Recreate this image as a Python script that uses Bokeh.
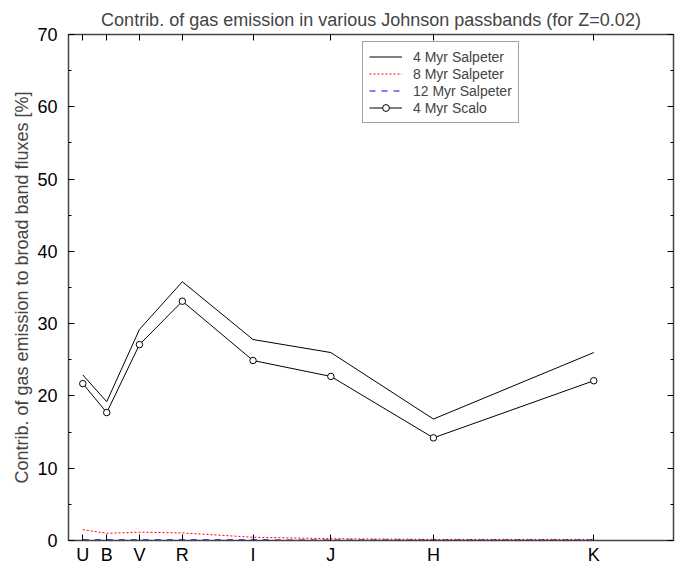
from bokeh.plotting import figure
from bokeh.models import (LinearAxis, FixedTicker, SingleIntervalTicker, Range1d, Legend, LegendItem, ColumnDataSource)
from bokeh.embed import file_html
from bokeh.resources import INLINE

# ---- data ----
bands = ["U", "B", "V", "R", "I", "J", "H", "K"]
wavelength_um = [0.352, 0.439, 0.558, 0.714, 0.971, 1.254, 1.627, 2.21]
salpeter_4myr = [22.9, 19.2, 29.2, 35.8, 27.8, 26.0, 16.8, 26.0]
salpeter_8myr = [1.5, 1.0, 1.15, 1.05, 0.45, 0.25, 0.15, 0.15]
salpeter_12myr = [0.1, 0.1, 0.1, 0.1, 0.08, 0.05, 0.05, 0.05]
scalo_4myr = [21.7, 17.7, 27.1, 33.1, 24.9, 22.7, 14.2, 22.1]

FONT = "Liberation Sans"

src = ColumnDataSource(dict(x=wavelength_um, s4=salpeter_4myr, s8=salpeter_8myr,
                            s12=salpeter_12myr, sc4=scalo_4myr))

p = figure(width=679, height=567, output_backend="svg", toolbar_location=None,
           x_range=Range1d(0.3, 2.5), y_range=Range1d(0, 70),
           x_axis_location=None, y_axis_location=None,
           min_border_left=68, min_border_right=6, min_border_top=34, min_border_bottom=27)

p.title.text = "Contrib. of gas emission in various Johnson passbands (for Z=0.02)"
p.title.align = "center"
p.title.text_font = FONT
p.title.text_font_size = "18px"
p.title.text_font_style = "normal"
p.title.offset = 0
p.title.standoff = 10

p.xgrid.visible = False
p.ygrid.visible = False
p.outline_line_color = "#444444"
p.background_fill_color = "white"
p.border_fill_color = "white"

xt = FixedTicker(ticks=wavelength_um)
overrides = {w: b for w, b in zip(wavelength_um, bands)}

def style_axis(ax, labels=True):
    ax.axis_line_color = "#444444"
    ax.axis_line_width = 1.5
    ax.major_tick_in = 6
    ax.major_tick_out = 0
    ax.minor_tick_in = 3
    ax.minor_tick_out = 0
    ax.major_tick_line_color = "black"
    ax.minor_tick_line_color = "black"
    ax.major_label_text_font = FONT
    ax.major_label_text_font_size = "18px" if labels else "0px"
    ax.major_label_text_color = "black"
    ax.axis_label_text_font = FONT
    ax.axis_label_text_font_size = "18px"
    ax.axis_label_text_font_style = "normal"

xb = LinearAxis(ticker=xt, major_label_overrides=overrides)
style_axis(xb)
xb.major_label_standoff = 4
p.add_layout(xb, "below")

xa = LinearAxis(ticker=xt, major_label_overrides={w: "" for w in wavelength_um})
style_axis(xa, labels=False)
xa.major_label_standoff = 0
p.add_layout(xa, "above")

yt = SingleIntervalTicker(interval=10, num_minor_ticks=2)
yl = LinearAxis(ticker=yt, axis_label="Contrib. of gas emission to broad band fluxes [%]")
style_axis(yl)
yl.major_label_standoff = 11
yl.axis_label_standoff = 2
p.add_layout(yl, "left")

yr = LinearAxis(ticker=yt, major_label_overrides={v: "" for v in range(0, 80, 10)})
style_axis(yr, labels=False)
yr.major_label_standoff = 0
p.add_layout(yr, "right")

r1 = p.line("x", "s4", source=src, line_color="black", line_width=1)
r2 = p.line("x", "s8", source=src, line_color="red", line_width=1, line_dash="2 2")
r3 = p.line("x", "s12", source=src, line_color="blue", line_width=1.2, line_dash="6 6")
r4 = p.line("x", "sc4", source=src, line_color="black", line_width=1)
r5 = p.scatter("x", "sc4", source=src, marker="circle", size=6.5, line_color="black",
               fill_color="white", line_width=1)

legend = Legend(items=[
    LegendItem(label="4 Myr Salpeter", renderers=[r1]),
    LegendItem(label="8 Myr Salpeter", renderers=[r2]),
    LegendItem(label="12 Myr Salpeter", renderers=[r3]),
    LegendItem(label="4 Myr Scalo", renderers=[r4, r5]),
], location=(294, 417))
legend.label_text_font = FONT
legend.label_text_font_size = "14px"
legend.glyph_width = 33
legend.glyph_height = 17
legend.label_height = 17
legend.spacing = 0
legend.padding = 6
legend.margin = 0
legend.label_standoff = 11
legend.border_line_color = "#444444"
legend.border_line_width = 1
legend.background_fill_alpha = 1
p.add_layout(legend, "center")

open("out.html", "w").write(file_html(p, INLINE))
